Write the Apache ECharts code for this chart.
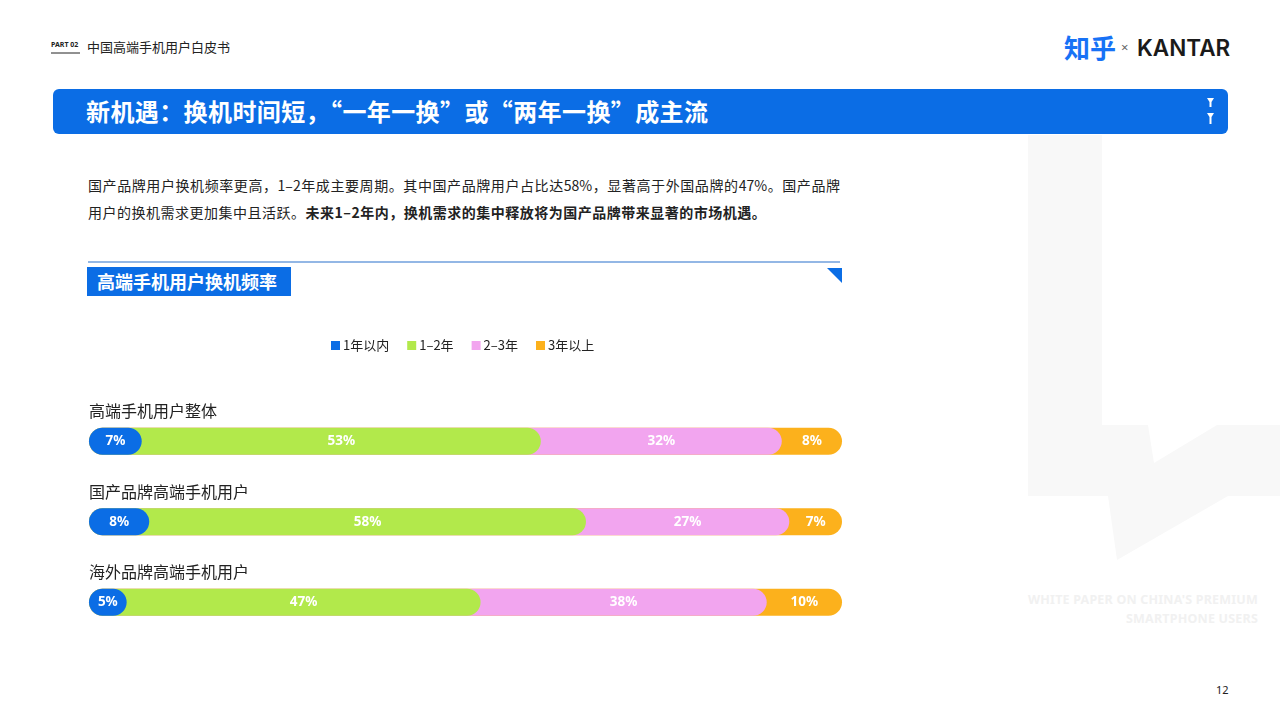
<!DOCTYPE html>
<html><head><meta charset="utf-8">
<script src="https://cdn.jsdelivr.net/npm/echarts@6/dist/echarts.min.js"></script>
<style>
html,body{margin:0;padding:0;width:1280px;height:720px;overflow:hidden;background:#fff;font-family:"Noto Sans CJK SC","Noto Sans",sans-serif;color:#222;}
.abs{position:absolute;white-space:nowrap;}
#chart{position:absolute;left:0;top:0;width:1280px;height:720px;z-index:5;}
</style></head>
<body>
<svg class="abs" style="left:0;top:0" width="1280" height="720">
  <polygon points="1028,135 1102,135 1102,425 1148,425 1154,463 1217,425 1280,425 1280,496 1228,496 1117,560 1108,496 1028,496" fill="#f8f8f8"/>
  <rect x="53" y="89" width="1175" height="45" rx="6" fill="#0b6de5"/>
  <polygon points="1207,98 1214,98 1211.5,102 1211.5,107 1209.5,107 1209.5,102" fill="#fff"/>
  <polygon points="1207,113 1214,113 1211.5,117 1211.5,124 1209.5,124 1209.5,117" fill="#fff"/>
  <line x1="51" y1="53" x2="80" y2="53" stroke="#222" stroke-width="1"/>
  <line x1="88" y1="262" x2="840" y2="262" stroke="#6f9fdc" stroke-width="1.5"/>
  <rect x="87" y="267" width="204" height="29" fill="#0b6de5"/>
  <polygon points="827,268 842,268 842,283" fill="#0b6de5"/>
</svg>
<div class="abs" style="left:51px;top:40px;font-size:7px;font-weight:bold;font-family:'Noto Sans',sans-serif;">PART 02</div>
<div class="abs" style="left:87px;top:37px;font-size:13px;">中国高端手机用户白皮书</div>
<div class="abs" style="left:1064px;top:30px;font-size:26px;font-weight:bold;color:#1772f6;line-height:34px;">知乎</div>
<div class="abs" style="left:1121px;top:38px;font-size:13px;color:#666;font-family:'Noto Sans',sans-serif;">×</div>
<div class="abs" style="left:1137px;top:34px;font-size:22.5px;font-weight:600;font-family:Inter,sans-serif;color:#1a1a1a;">KANTAR</div>
<div class="abs" style="left:86px;top:95px;font-size:24px;font-weight:bold;color:#fff;line-height:32px;letter-spacing:0.4px;">新机遇：换机时间短，“一年一换”或“两年一换”成主流</div>
<div class="abs" style="left:88px;top:173px;width:752px;font-size:14px;line-height:24px;text-align:justify;text-align-last:justify;">国产品牌用户换机频率更高，1–2年成主要周期。其中国产品牌用户占比达58%，显著高于外国品牌的47%。国产品牌</div>
<div class="abs" style="left:88px;top:200px;font-size:14px;line-height:24px;letter-spacing:0.5px;">用户的换机需求更加集中且活跃。<b>未来1–2年内，换机需求的集中释放将为国产品牌带来显著的市场机遇。</b></div>
<div class="abs" style="left:97px;top:268px;font-size:18px;font-weight:bold;color:#fff;line-height:27px;">高端手机用户换机频率</div>
<div class="abs" style="right:22px;top:590px;font-size:12.5px;font-weight:bold;color:#f1f1f1;text-align:right;line-height:19px;letter-spacing:0.2px;font-family:'Noto Sans',sans-serif;">WHITE PAPER ON CHINA'S PREMIUM<br>SMARTPHONE USERS</div>
<div class="abs" style="left:1216px;top:682px;font-size:11px;font-family:'Noto Sans',sans-serif;">12</div>
<div id="chart"></div>
<script>
const categories = ['高端手机用户整体', '国产品牌高端手机用户', '海外品牌高端手机用户'];
const seriesNames = ['1年以内', '1–2年', '2–3年', '3年以上'];
const within1Year = [7, 8, 5];
const oneToTwoYears = [53, 58, 47];
const twoToThreeYears = [32, 27, 38];
const overThreeYears = [8, 7, 10];
const colors = ['#0b6de5', '#b2e94b', '#f2a5ef', '#fcb11c'];

const values = [within1Year, oneToTwoYears, twoToThreeYears, overThreeYears];
// cumulative ends so each rounded segment overlaps the next one
const cumulative = values.map((arr, s) => arr.map((v, i) => values.slice(0, s + 1).reduce((a, b) => a + b[i], 0)));

const BAR_W = 27;
const series = [];
for (let s = values.length - 1; s >= 0; s--) {
  series.push({
    name: seriesNames[s], type: 'bar', data: cumulative[s], barWidth: BAR_W, barGap: '-100%',
    z: 2 + (values.length - s), itemStyle: { color: colors[s], borderRadius: BAR_W / 2 },
    emphasis: { disabled: true }, silent: true
  });
}
for (let s = 0; s < values.length; s++) {
  series.push({
    name: seriesNames[s], type: 'bar', stack: 'lbl', data: values[s], barWidth: BAR_W, barGap: '-100%',
    z: 10, itemStyle: { color: 'rgba(0,0,0,0)' },
    label: { show: true, position: 'inside', formatter: '{c}%', color: '#fff', fontSize: 13.5, fontWeight: 'bold', fontFamily: 'Noto Sans' },
    emphasis: { disabled: true }, silent: true
  });
}

const chart = echarts.init(document.getElementById('chart'));
chart.setOption({
  animation: false,
  legend: {
    left: 326, top: 334, itemWidth: 9, itemHeight: 9, itemGap: 18, icon: 'rect',
    textStyle: { fontSize: 13, color: '#222', fontFamily: 'Noto Sans CJK SC', padding: [0, 0, 0, -2] },
    data: seriesNames.map((n, i) => ({ name: n, itemStyle: { color: colors[i] } }))
  },
  grid: { left: 89, right: 438, top: 401, height: 241.5, containLabel: false },
  xAxis: { type: 'value', min: 0, max: 100, show: false },
  yAxis: {
    type: 'category', data: categories, inverse: true,
    axisLine: { show: false }, axisTick: { show: false },
    axisLabel: {
      inside: true, margin: 0, align: 'left', verticalAlign: 'bottom',
      fontSize: 16, color: '#222', lineHeight: 20, padding: [0, 0, 20, 0], fontFamily: 'Noto Sans CJK SC'
    }
  },
  series: series
});
</script>
</body></html>
